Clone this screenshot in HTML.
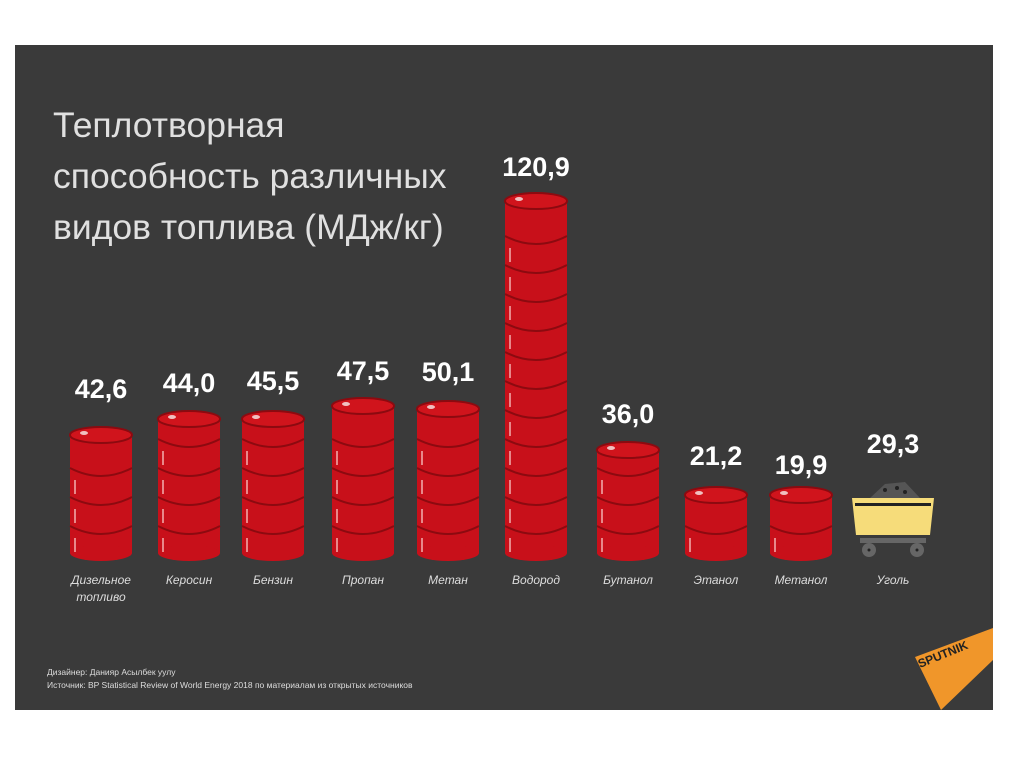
<!DOCTYPE html><html><head><meta charset="utf-8"><style>body{margin:0;background:#fff}svg{display:block}</style></head><body>
<svg width="1024" height="767" xmlns="http://www.w3.org/2000/svg" font-family="Liberation Sans, sans-serif">
<rect x="0" y="0" width="1024" height="767" fill="#fff"/>
<rect x="15" y="45" width="978" height="665" fill="#3a3a3a"/>
<g fill="#e0e0e0" font-size="35.5">
<text x="53" y="137">Теплотворная</text>
<text x="53" y="188">способность различных</text>
<text x="53" y="239">видов топлива (МДж/кг)</text>
</g>
<g id="barrels"></g>
<g fill="#fff" font-weight="bold" font-size="27" text-anchor="middle">
<text x="101" y="398">42,6</text><text x="189" y="392">44,0</text><text x="273" y="390">45,5</text>
<text x="363" y="380">47,5</text><text x="448" y="381">50,1</text><text x="536" y="176">120,9</text>
<text x="628" y="423">36,0</text><text x="716" y="465">21,2</text><text x="801" y="474">19,9</text>
<text x="893" y="453">29,3</text></g>
<g fill="#ddd" font-style="italic" font-size="12" text-anchor="middle">
<text x="101" y="584">Дизельное</text><text x="101" y="601">топливо</text>
<text x="189" y="584">Керосин</text><text x="273" y="584">Бензин</text><text x="363" y="584">Пропан</text>
<text x="448" y="584">Метан</text><text x="536" y="584">Водород</text><text x="628" y="584">Бутанол</text>
<text x="716" y="584">Этанол</text><text x="801" y="584">Метанол</text><text x="893" y="584">Уголь</text></g>
<g>
<polygon points="870,498 885,484 905,482 920,498" fill="#555"/>
<circle cx="885" cy="490" r="2" fill="#222"/><circle cx="897" cy="488" r="2" fill="#222"/><circle cx="905" cy="492" r="2" fill="#222"/>
<polygon points="852,498 934,498 930,535 856,535" fill="#f6dc7a"/>
<rect x="855" y="503" width="76" height="3" fill="#222"/>
<rect x="860" y="538" width="66" height="5" fill="#666"/>
<circle cx="869" cy="550" r="7" fill="#666"/><circle cx="917" cy="550" r="7" fill="#666"/>
<circle cx="869" cy="550" r="1.5" fill="#222"/><circle cx="917" cy="550" r="1.5" fill="#222"/>
</g>
<g fill="#ddd" font-size="8.5">
<text x="47" y="675">Дизайнер: Данияр Асылбек уулу</text>
<text x="47" y="688">Источник: BP Statistical Review of World Energy 2018 по материалам из открытых источников</text></g>
<polygon points="915,657 993,628 993,660 941,710" fill="#f0962a"/>
<text x="920" y="668" font-size="12" font-weight="bold" fill="#222" transform="rotate(-22 920 668)">SPUTNIK</text>
</svg>
<script>
var data=[[70,427],[158,411],[242,411],[332,398],[417,401],[505,193],[597,442],[685,487],[770,487]];
var s='',B=561,W=62;
data.forEach(function(d){var x=d[0],t=d[1],cx=x+W/2,rx=W/2,ry=8;
s+='<rect x="'+x+'" y="'+(t+ry)+'" width="'+W+'" height="'+(B-ry-t-ry)+'" fill="#c8101a"/>';
s+='<ellipse cx="'+cx+'" cy="'+(B-ry)+'" rx="'+rx+'" ry="'+ry+'" fill="#c8101a"/>';
for(var y=B-29;y>t+20;y-=29){s+='<path d="M'+x+' '+(y-6)+' Q'+cx+' '+(y+10)+' '+(x+W)+' '+(y-6)+'" stroke="#8c0a10" stroke-width="2" fill="none"/>';
s+='<line x1="'+(x+5)+'" y1="'+(y+6)+'" x2="'+(x+5)+'" y2="'+(y+20)+'" stroke="#f3b0b0" stroke-width="1.5"/>';}
s+='<ellipse cx="'+cx+'" cy="'+(t+ry)+'" rx="'+rx+'" ry="'+ry+'" fill="#d0141c" stroke="#8c0a10" stroke-width="2"/>';
s+='<ellipse cx="'+(x+14)+'" cy="'+(t+6)+'" rx="4" ry="2" fill="#f0c0c0"/>';});
document.getElementById('barrels').innerHTML=s;
</script>
</body></html>
